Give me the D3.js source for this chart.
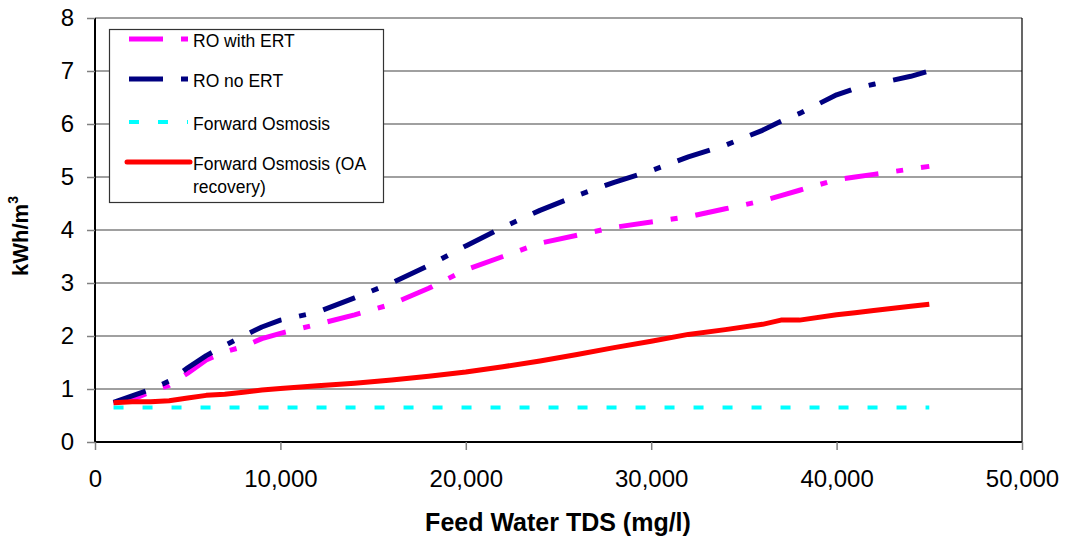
<html>
  <head>
    <title>Energy use vs feed water TDS</title>
    <script type="text/javascript" src="https://cdnjs.cloudflare.com/ajax/libs/d3/7.8.5/d3.min.js"></script>
    <style>
      body { margin: 0; background: white; }
      text { font-family: "Liberation Sans", Arial, sans-serif; }
    </style>
  </head>
  <body>
    <script type="text/javascript">
// Data
const tds = [1000, 2000, 3000, 4000, 5000, 6000, 7000, 8000, 9000, 10000, 12000, 14000, 16000, 18000, 20000,
             22000, 24000, 26000, 28000, 30000, 32000, 34000, 36000, 37000, 38000, 40000, 41000, 42000, 44000, 45000];
const roWithErt = [0.74, 0.80, 0.95, 1.07, 1.30, 1.55, 1.70, 1.80, 1.95, 2.05, 2.22, 2.40, 2.60, 2.90, 3.25,
                   3.50, 3.75, 3.90, 4.05, 4.15, 4.25, 4.40, 4.55, 4.65, 4.75, 4.95, 5.00, 5.05, 5.15, 5.20];
const roNoErt = [0.75, 0.87, 0.99, 1.15, 1.40, 1.63, 1.82, 2.00, 2.17, 2.30, 2.45, 2.72, 3.00, 3.33, 3.70,
                 4.05, 4.37, 4.65, 4.90, 5.12, 5.38, 5.60, 5.88, 6.05, 6.20, 6.55, 6.67, 6.75, 6.90, 7.00];
const forwardOsmosis = [0.65, 0.65, 0.65, 0.65, 0.65, 0.65, 0.65, 0.65, 0.65, 0.65, 0.65, 0.65, 0.65, 0.65, 0.65,
                        0.65, 0.65, 0.65, 0.65, 0.65, 0.65, 0.65, 0.65, 0.65, 0.65, 0.65, 0.65, 0.65, 0.65, 0.65];
const foOaRecovery = [0.74, 0.76, 0.76, 0.78, 0.83, 0.88, 0.90, 0.94, 0.98, 1.01, 1.06, 1.11, 1.17, 1.24, 1.32,
                      1.42, 1.53, 1.65, 1.78, 1.90, 2.03, 2.12, 2.22, 2.30, 2.30, 2.40, 2.44, 2.48, 2.56, 2.60];
const xTicks = [0, 10000, 20000, 30000, 40000, 50000];
const yTicks = [0, 1, 2, 3, 4, 5, 6, 7, 8];

const series = [
  { name: "RO with ERT", values: roWithErt, color: "#ff00ff", width: 5, dash: "34,18,7,18" },
  { name: "RO no ERT", values: roNoErt, color: "#000080", width: 5, dash: "34,18,7,18" },
  { name: "Forward Osmosis", values: forwardOsmosis, color: "#00ffff", width: 4, dash: "10,19" },
  { name: "Forward Osmosis (OA|recovery)", values: foOaRecovery, color: "#ff0000", width: 5, dash: null }
];

const w = 1068;
const h = 540;
const plotLeft = 95, plotRight = 1022, plotTop = 18, plotBottom = 442;

const svg = d3.select("body")
  .append("svg")
  .attr("width", w)
  .attr("height", h);

let xScale = d3.scaleLinear().domain([0, 50000]).range([plotLeft, plotRight]);
let yScale = d3.scaleLinear().domain([0, 8]).range([plotBottom, plotTop]);

// gridlines
svg.selectAll("line.grid")
  .data(yTicks.slice(1))
  .enter()
  .append("line")
  .attr("class", "grid")
  .attr("x1", plotLeft)
  .attr("x2", plotRight)
  .attr("y1", d => yScale(d))
  .attr("y2", d => yScale(d))
  .attr("stroke", "#808080")
  .attr("stroke-width", 1.5);

// right border of plot
svg.append("line")
  .attr("x1", plotRight).attr("x2", plotRight)
  .attr("y1", plotTop).attr("y2", plotBottom)
  .attr("stroke", "#000")
  .attr("stroke-width", 1.2);

// axes
let yAxis = d3.axisLeft(yScale).tickValues(yTicks).tickSize(8).tickPadding(13);
let gy = svg.append("g")
  .attr("transform", "translate(" + plotLeft + ",0)")
  .call(yAxis);

let xAxis = d3.axisBottom(xScale).tickValues(xTicks).tickSize(8).tickPadding(20)
  .tickFormat(d3.format(","));
let gx = svg.append("g")
  .attr("transform", "translate(0," + plotBottom + ")")
  .call(xAxis);

for (let g of [gx, gy]) {
  g.select(".domain").attr("stroke", "#000").attr("stroke-width", 2);
  g.selectAll(".tick line").attr("stroke", "#808080").attr("stroke-width", 1.5);
  g.selectAll(".tick text")
    .attr("font-family", "Liberation Sans, Arial, sans-serif")
    .attr("font-size", "24px")
    .attr("fill", "#000");
}
gy.select(".domain").attr("d", "M0," + plotTop + "V" + plotBottom);
gx.select(".domain").attr("d", "M" + plotLeft + ",0H" + plotRight);

// lines
const line = d3.line()
  .x((d, i) => xScale(tds[i]))
  .y(d => yScale(d));

for (let s of series) {
  svg.append("path")
    .datum(s.values)
    .attr("d", line)
    .attr("fill", "none")
    .attr("stroke", s.color)
    .attr("stroke-width", s.width)
    .attr("stroke-dasharray", s.dash)
    .attr("stroke-linejoin", "round");
}

// legend
const legend = svg.append("g");
legend.append("rect")
  .attr("x", 109.5).attr("y", 29.5)
  .attr("width", 274).attr("height", 173)
  .attr("fill", "white")
  .attr("stroke", "#333")
  .attr("stroke-width", 1.2);

const legendY = [39, 79, 122, 162];
series.forEach(function(s, i) {
  legend.append("line")
    .attr("x1", s.dash ? 129 : 127)
    .attr("x2", s.dash ? 188 : 190)
    .attr("y1", legendY[i])
    .attr("y2", legendY[i])
    .attr("stroke", s.color)
    .attr("stroke-width", s.width)
    .attr("stroke-dasharray", s.dash)
    .attr("stroke-linecap", s.dash ? "butt" : "round");
  let parts = s.name.split("|");
  let t = legend.append("text")
    .attr("x", 193)
    .attr("y", legendY[i] + 8)
    .attr("font-size", "17.5px")
    .attr("fill", "#000");
  parts.forEach(function(p, j) {
    t.append("tspan")
      .attr("x", 193)
      .attr("dy", j == 0 ? 0 : 23)
      .text(p);
  });
});

// axis titles
svg.append("text")
  .attr("x", 558)
  .attr("y", 531)
  .attr("text-anchor", "middle")
  .attr("font-size", "25px")
  .attr("font-weight", "bold")
  .text("Feed Water TDS (mg/l)");

let yt = svg.append("text")
  .attr("transform", "translate(28,236) rotate(-90)")
  .attr("text-anchor", "middle")
  .attr("font-size", "22px")
  .attr("font-weight", "bold");
yt.append("tspan").text("kWh/m");
yt.append("tspan").attr("font-size", "14px").attr("dy", -10).text("3");
    </script>
  </body>
</html>
